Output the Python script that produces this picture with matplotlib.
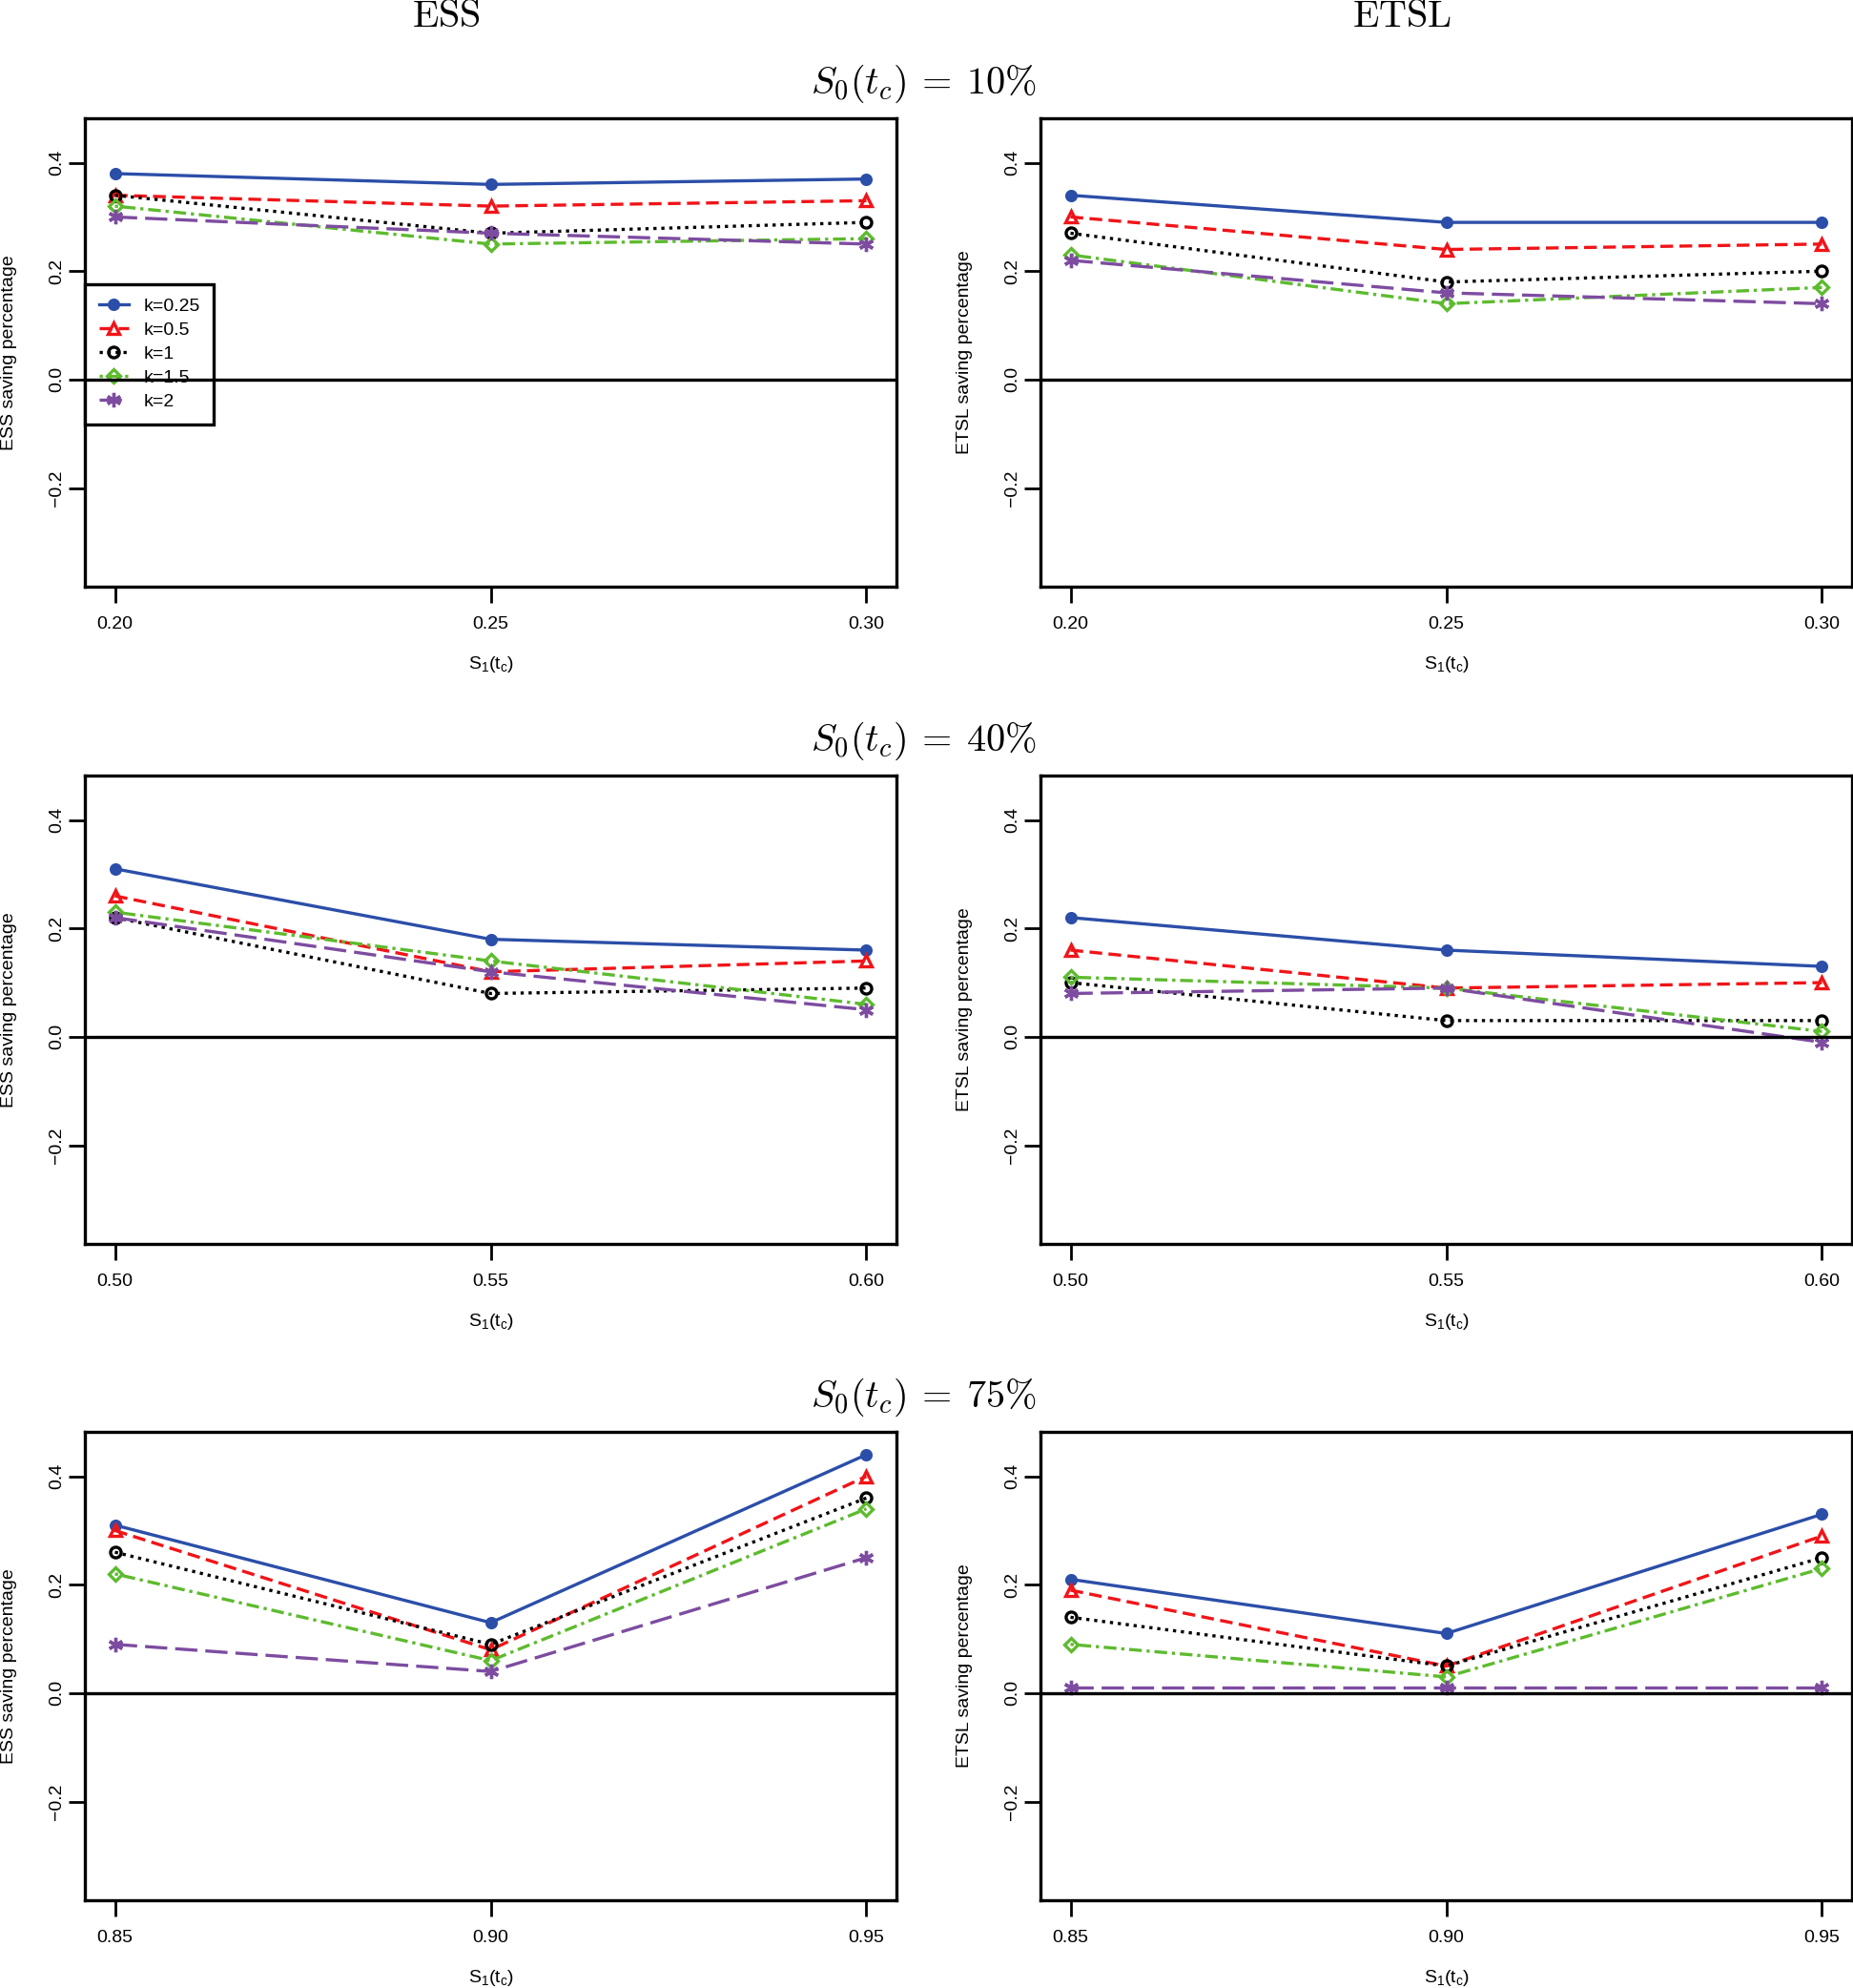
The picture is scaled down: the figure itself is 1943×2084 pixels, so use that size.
import matplotlib
matplotlib.use("Agg")
from matplotlib import pyplot as plt
import numpy as np

plt.rcParams['font.family'] = ['Liberation Sans', 'DejaVu Sans']
plt.rcParams['mathtext.fontset'] = 'custom'
plt.rcParams['mathtext.rm'] = 'Liberation Sans'
plt.rcParams['mathtext.it'] = 'Liberation Sans:italic'

# data: rows = S0(tc) scenarios, columns = ESS / ETSL
row_titles = [r'$S_0(t_c)\:=\:10\%$', r'$S_0(t_c)\:=\:40\%$', r'$S_0(t_c)\:=\:75\%$']
col_titles = ['ESS', 'ETSL']
x_values = [[0.20, 0.25, 0.30], [0.50, 0.55, 0.60], [0.85, 0.90, 0.95]]
k_labels = ['k=0.25', 'k=0.5', 'k=1', 'k=1.5', 'k=2']

# ESS saving percentage, one list per k
ess_10 = [[0.38, 0.36, 0.37], [0.34, 0.32, 0.33], [0.34, 0.27, 0.29], [0.32, 0.25, 0.26], [0.30, 0.27, 0.25]]
ess_40 = [[0.31, 0.18, 0.16], [0.26, 0.12, 0.14], [0.22, 0.08, 0.09], [0.23, 0.14, 0.06], [0.22, 0.12, 0.05]]
ess_75 = [[0.31, 0.13, 0.44], [0.30, 0.08, 0.40], [0.26, 0.09, 0.36], [0.22, 0.06, 0.34], [0.09, 0.04, 0.25]]

# ETSL saving percentage
etsl_10 = [[0.34, 0.29, 0.29], [0.30, 0.24, 0.25], [0.27, 0.18, 0.20], [0.23, 0.14, 0.17], [0.22, 0.16, 0.14]]
etsl_40 = [[0.22, 0.16, 0.13], [0.16, 0.09, 0.10], [0.10, 0.03, 0.03], [0.11, 0.09, 0.01], [0.08, 0.09, -0.01]]
etsl_75 = [[0.21, 0.11, 0.33], [0.19, 0.05, 0.29], [0.14, 0.05, 0.25], [0.09, 0.03, 0.23], [0.01, 0.01, 0.01]]

data = [[ess_10, etsl_10], [ess_40, etsl_40], [ess_75, etsl_75]]

# styles per k
colors = ['#2b4ea8', '#f01418', 'black', '#5dbb2e', '#7d4ca0']
markers = ['o', '^', 'o', 'D', (6, 2, 0)]
filled = [True, False, False, False, True]
msizes = [7, 9, 8, 7, 11]
dashes = ['-', (0, (4, 2)), (0, (1, 1.5)), (0, (1, 1.5, 4, 1.5)), (0, (7, 2.5))]

fig = plt.figure(figsize=(19.43, 20.84), dpi=100)

lefts = [89 / 1943, 1091 / 1943]
bottoms = [1 - 615 / 2084, 1 - 1304 / 2084, 1 - 1992 / 2084]
w = 851 / 1943
h = 491 / 2084

for r in range(3):
    for c in range(2):
        ax = fig.add_axes([lefts[c], bottoms[r], w, h])
        xs = x_values[r]
        for i in range(5):
            mfc = colors[i] if filled[i] else 'none'
            ax.plot(xs, data[r][c][i], color=colors[i], linestyle=dashes[i],
                    linewidth=2.4, marker=markers[i], markersize=msizes[i],
                    markerfacecolor=mfc, markeredgecolor=colors[i],
                    markeredgewidth=2.4, label=k_labels[i], zorder=3)
        ax.axhline(0, color='black', linewidth=2.4, zorder=4)
        span = xs[-1] - xs[0]
        ax.set_xlim(xs[0] - 0.04 * span, xs[-1] + 0.04 * span)
        ax.set_ylim(-0.35 - 0.032, 0.45 + 0.032)
        ax.set_xticks(xs)
        ax.set_xticklabels(['%.2f' % v for v in xs])
        ax.set_yticks([-0.2, 0.0, 0.2, 0.4])
        ax.set_yticklabels(['\u22120.2', '0.0', '0.2', '0.4'])
        for lab in ax.get_yticklabels():
            lab.set_rotation(90)
            lab.set_va('center')
        ax.tick_params(axis='both', length=12, width=2, labelsize=14)
        ax.tick_params(axis='x', pad=10)
        ax.tick_params(axis='y', pad=3)
        for sp in ax.spines.values():
            sp.set_linewidth(2.4)
        ax.set_xlabel(r'$\mathrm{S_1(t_c)}$', fontsize=14, labelpad=17)
        ax.set_ylabel(col_titles[c] + ' saving percentage', fontsize=14, labelpad=24)

        if r == 0 and c == 0:
            leg = ax.legend(loc='upper left', bbox_to_anchor=(0.0, 0.646),
                            fontsize=14, frameon=True, fancybox=False,
                            edgecolor='black', framealpha=1.0, handlelength=1.6,
                            borderpad=0.75, labelspacing=0.38, handletextpad=0.8,
                            borderaxespad=0.0)
            leg.get_frame().set_linewidth(2.4)
            leg.set_zorder(3.5)

# column and row titles
fig.text(468 / 1943, 1 - 28 / 2084, r'$\mathrm{ESS}$', fontsize=29, ha='center',
         va='baseline', math_fontfamily='cm')
fig.text(1470 / 1943, 1 - 28 / 2084, r'$\mathrm{ETSL}$', fontsize=29, ha='center',
         va='baseline', math_fontfamily='cm')

row_title_y = [88, 777, 1465]
for r in range(3):
    fig.text(968 / 1943, 1 - row_title_y[r] / 2084, row_titles[r], fontsize=29,
             ha='center', va='center', math_fontfamily='cm')

fig.savefig('out.png', dpi=100)
